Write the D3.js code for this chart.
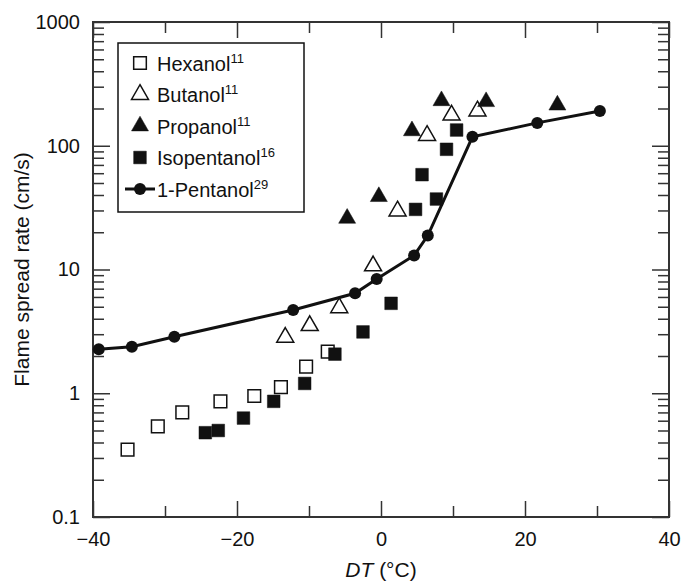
<!DOCTYPE html>
<html>
<head>
<meta charset="utf-8">
<script src="https://cdn.jsdelivr.net/npm/d3@7"></script>
<style>
  body { margin: 0; background: #fff; }
  text { font-family: "Liberation Sans", Arial, sans-serif; fill: #111; }
</style>
</head>
<body>
<div id="chart-area"></div>
<script>
// data
var hexanolX = [-35.2, -31.0, -27.6, -22.3, -17.6, -13.9, -10.4, -7.4];
var hexanolY = [0.35, 0.54, 0.70, 0.86, 0.95, 1.12, 1.64, 2.17];

var butanolX = [-13.3, -9.9, -5.8, -1.1, 2.3, 6.4, 9.8, 13.4];
var butanolY = [2.83, 3.52, 4.91, 10.7, 29.7, 121, 177, 191];

var propanolX = [-4.7, -0.3, 4.3, 8.4, 14.6, 24.5];
var propanolY = [25.9, 38.8, 132, 231, 227, 213];

var isopentanolX = [-24.4, -22.6, -19.1, -14.9, -10.6, -6.4, -2.5, 1.4, 4.8, 5.7, 7.7, 9.1, 10.5];
var isopentanolY = [0.48, 0.50, 0.63, 0.86, 1.20, 2.07, 3.13, 5.33, 30.6, 58.4, 37.1, 93.6, 134];

var pentanolX = [-39.2, -34.6, -28.7, -12.2, -3.6, -0.6, 4.6, 6.5, 12.7, 21.7, 30.4];
var pentanolY = [2.27, 2.38, 2.86, 4.71, 6.42, 8.38, 13.0, 18.8, 118, 153, 191];

var xMajorTicks = [-40, -20, 0, 20, 40];
var xMinorTicks = [-30, -10, 10, 30];
var yMajorTicks = [0.1, 1, 10, 100, 1000];
var yTickLabels = ["0.1", "1", "10", "100", "1000"];

var legendNames = ["Hexanol", "Butanol", "Propanol", "Isopentanol", "1-Pentanol"];
var legendRefs = ["11", "11", "11", "16", "29"];

var margin = { top: 22, right: 21, bottom: 68, left: 93 };
var width = 690 - margin.left - margin.right;
var height = 585 - margin.top - margin.bottom;
var ink = "#111";
var axisInk = "#333";

var svg = d3.select("#chart-area")
    .append("svg")
    .attr("width", 690)
    .attr("height", 585);

var g = svg.append("g")
    .attr("transform", "translate(" + margin.left + "," + margin.top + ")");

var x = d3.scaleLinear()
    .domain([-40, 40])
    .range([0, width]);

var y = d3.scaleLog()
    .domain([0.1, 1000])
    .range([height, 0]);

// minor log ticks 2..9 in each decade
var yMinorTicks = [];
yMajorTicks.slice(0, -1).forEach(function(dec) {
    for (var k = 2; k <= 9; k++) yMinorTicks.push(dec * k);
});

function styleAxis(sel) {
    sel.select(".domain").remove();
    sel.selectAll("line").attr("stroke", axisInk).attr("stroke-width", 1.5);
    sel.selectAll("text").attr("font-size", "20px").attr("fill", ink)
        .style("font-family", "'Liberation Sans', Arial, sans-serif");
}

// bottom
g.append("g")
    .attr("transform", "translate(0," + height + ")")
    .call(d3.axisBottom(x).tickValues(xMajorTicks).tickSize(-16).tickPadding(15))
    .call(styleAxis);
g.append("g")
    .attr("transform", "translate(0," + height + ")")
    .call(d3.axisBottom(x).tickValues(xMinorTicks).tickSize(-11).tickFormat(""))
    .call(styleAxis);
// top
g.append("g")
    .call(d3.axisTop(x).tickValues(xMajorTicks).tickSize(-16).tickFormat(""))
    .call(styleAxis);
g.append("g")
    .call(d3.axisTop(x).tickValues(xMinorTicks).tickSize(-11).tickFormat(""))
    .call(styleAxis);
// left
g.append("g")
    .call(d3.axisLeft(y).tickValues(yMajorTicks).tickSize(-17).tickPadding(13)
        .tickFormat(function(d, i) { return yTickLabels[i]; }))
    .call(styleAxis);
g.append("g")
    .call(d3.axisLeft(y).tickValues(yMinorTicks).tickSize(-11).tickFormat(""))
    .call(styleAxis);
// right
g.append("g")
    .attr("transform", "translate(" + width + ",0)")
    .call(d3.axisRight(y).tickValues(yMajorTicks).tickSize(-17).tickFormat(""))
    .call(styleAxis);
g.append("g")
    .attr("transform", "translate(" + width + ",0)")
    .call(d3.axisRight(y).tickValues(yMinorTicks).tickSize(-11).tickFormat(""))
    .call(styleAxis);

g.append("rect")
    .attr("width", width)
    .attr("height", height)
    .attr("fill", "none")
    .attr("stroke", axisInk)
    .attr("stroke-width", 2);

// axis titles
var xTitle = svg.append("text")
    .attr("x", margin.left + width / 2)
    .attr("y", 577)
    .attr("font-size", "21px")
    .attr("text-anchor", "middle");
xTitle.append("tspan").attr("font-style", "italic").text("DT");
xTitle.append("tspan").text(" (°C)");

svg.append("text")
    .attr("transform", "translate(29," + (margin.top + height / 2) + ") rotate(-90)")
    .attr("font-size", "21px")
    .attr("text-anchor", "middle")
    .text("Flame spread rate (cm/s)");

// markers
var square = d3.symbol().type(d3.symbolSquare).size(160);
var triangle = d3.symbol().type(d3.symbolTriangle).size(125);

function zip(xs, ys) {
    return xs.map(function(v, i) { return { x: v, y: ys[i] }; });
}

var line = d3.line()
    .x(function(d) { return x(d.x); })
    .y(function(d) { return y(d.y); });

var pentanol = zip(pentanolX, pentanolY);

g.append("path")
    .datum(pentanol)
    .attr("d", line)
    .attr("fill", "none")
    .attr("stroke", ink)
    .attr("stroke-width", 3);

g.selectAll(".pentanol")
    .data(pentanol)
    .enter()
    .append("circle")
    .attr("class", "pentanol")
    .attr("cx", function(d) { return x(d.x); })
    .attr("cy", function(d) { return y(d.y); })
    .attr("r", 6)
    .attr("fill", ink);

function drawSymbols(cls, data, shape, filled) {
    g.selectAll("." + cls)
        .data(data)
        .enter()
        .append("path")
        .attr("class", cls)
        .attr("d", shape)
        .attr("transform", function(d) {
            return "translate(" + x(d.x) + "," + y(d.y) + ")";
        })
        .attr("fill", filled ? ink : "#fff")
        .attr("stroke", ink)
        .attr("stroke-width", filled ? 0.5 : 1.5);
}

drawSymbols("hexanol", zip(hexanolX, hexanolY), square, false);
drawSymbols("isopentanol", zip(isopentanolX, isopentanolY), square, true);
drawSymbols("butanol", zip(butanolX, butanolY), triangle, false);
drawSymbols("propanol", zip(propanolX, propanolY), triangle, true);

// legend
var legend = svg.append("g");

legend.append("rect")
    .attr("x", 118)
    .attr("y", 43)
    .attr("width", 186)
    .attr("height", 169)
    .attr("fill", "#fff")
    .attr("stroke", ink)
    .attr("stroke-width", 1.5);

var legendShapes = [square, triangle, triangle, square, null];
var legendFilled = [false, false, true, true, true];

legendNames.forEach(function(name, i) {
    var cy = 63 + i * 31.5;
    if (legendShapes[i]) {
        legend.append("path")
            .attr("d", legendShapes[i])
            .attr("transform", "translate(140," + cy + ")")
            .attr("fill", legendFilled[i] ? ink : "#fff")
            .attr("stroke", ink)
            .attr("stroke-width", legendFilled[i] ? 0.5 : 1.5);
    } else {
        legend.append("line")
            .attr("x1", 125).attr("x2", 155)
            .attr("y1", cy).attr("y2", cy)
            .attr("stroke", ink)
            .attr("stroke-width", 3);
        legend.append("circle")
            .attr("cx", 140).attr("cy", cy)
            .attr("r", 6)
            .attr("fill", ink);
    }
    var t = legend.append("text")
        .attr("x", 157)
        .attr("y", cy + 7.5)
        .attr("font-size", "20px");
    t.append("tspan").text(name);
    t.append("tspan")
        .attr("font-size", "13px")
        .attr("dy", -8)
        .text(legendRefs[i]);
});
</script>
</body>
</html>
